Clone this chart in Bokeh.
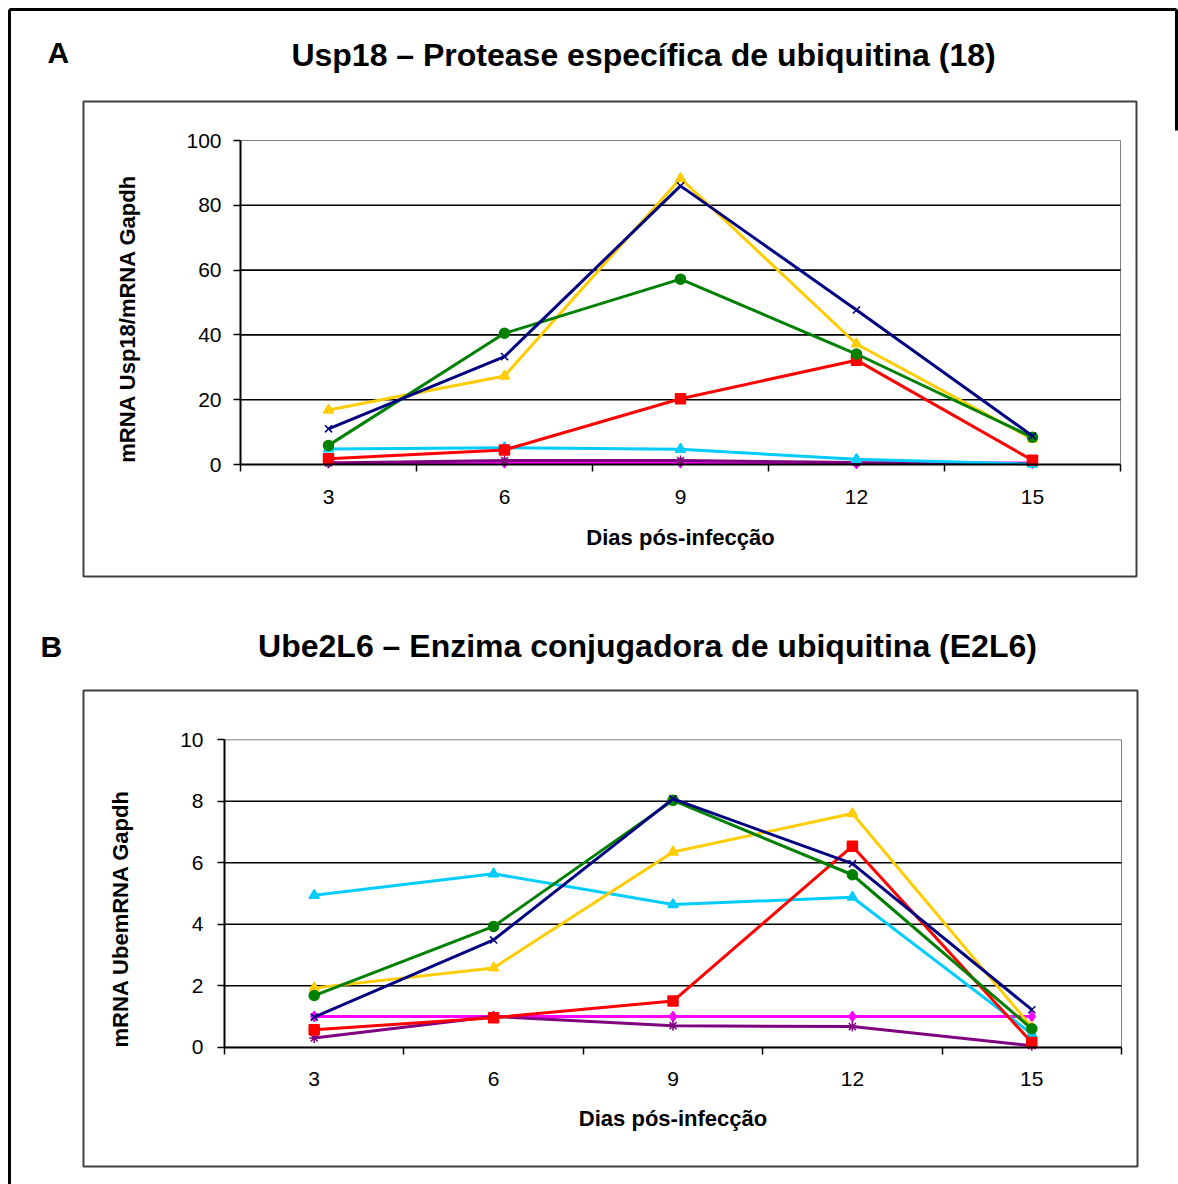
import math
from bokeh.plotting import figure
from bokeh.models import Range1d, FixedTicker, Label, LinearAxis
from bokeh.embed import file_html
from bokeh.resources import INLINE

# ---------------- data ----------------
days = [3, 6, 9, 12, 15]
xlabel = "Dias pós-infecção"

a_title = "Usp18 – Protease específica de ubiquitina (18)"
a_letter = "A"
a_ylabel = "mRNA Usp18/mRNA Gapdh"
a_yticks = [0, 20, 40, 60, 80, 100]
a_magenta = [0.5, 0.5, 0.5, 0.3, 0.5]
a_purple = [0.5, 1.2, 1.2, 0.6, 0.3]
a_cyan = [4.8, 5.2, 4.7, 1.6, 0.1]
a_yellow = [16.8, 27.3, 88.3, 37.2, 7.8]
a_red = [1.8, 4.5, 20.3, 32.2, 1.3]
a_green = [5.9, 40.5, 57.2, 34.1, 8.4]
a_navy = [11.0, 33.3, 86.0, 47.7, 8.8]

b_title = "Ube2L6 – Enzima conjugadora de ubiquitina (E2L6)"
b_letter = "B"
b_ylabel = "mRNA UbemRNA Gapdh"
b_yticks = [0, 2, 4, 6, 8, 10]
b_magenta = [1.0, 1.0, 1.0, 1.0, 1.0]
b_purple = [0.3, 1.0, 0.7, 0.67, 0.05]
b_cyan = [4.94, 5.64, 4.64, 4.88, 0.43]
b_yellow = [1.93, 2.58, 6.35, 7.6, 0.65]
b_red = [0.57, 0.96, 1.5, 6.54, 0.15]
b_green = [1.68, 3.93, 8.03, 5.61, 0.6]
b_navy = [0.98, 3.49, 8.08, 5.97, 1.22]

# ---------------- styles / layout (pixels) ----------------
series_colors = ["#FF00FF", "#800080", "#00CCFF", "#FFCC00", "#FF0000", "#008000", "#000080"]
series_markers = ["diamond", "asterisk", "triangle", "triangle", "square", "circle", "x"]
FONT = "Liberation Sans"
W, H = 1178, 1184

p = figure(width=W, height=H, x_range=Range1d(0, W), y_range=Range1d(0, H),
           x_axis_type=None, y_axis_type=None, output_backend="svg",
           toolbar_location=None, title=None, min_border=0)
p.outline_line_color = None
p.background_fill_color = "white"
p.border_fill_color = "white"


def Y(py):
    return H - py


# outer frame (top, left, right near the top)
p.line([9, 9], [Y(1200), Y(9)], line_color="black", line_width=3)
p.line([9, 1176], [Y(9), Y(9)], line_color="black", line_width=3)
p.line([1176, 1176], [Y(9), Y(130)], line_color="black", line_width=3)


def panel(key, plot_px, box_px, yticks, series, title, title_cx, title_base,
          letter, letter_x, letter_base, ylabel, ylab_cx, ylab_cy,
          ytick_standoff, xlab_standoff):
    L, T, R, B = plot_px
    half = (days[1] - days[0]) / 2
    x0, x1 = days[0] - half, days[-1] + half
    y0, y1 = yticks[0], yticks[-1]
    sx = (R - L) / (x1 - x0)
    sy = (B - T) / (y1 - y0)
    xr = Range1d(x0 - L / sx, x0 + (W - L) / sx)
    yr = Range1d(y0 - Y(B) / sy, y0 + (H - Y(B)) / sy)
    p.extra_x_ranges[key] = xr
    p.extra_y_ranges[key] = yr
    kw = dict(x_range_name=key, y_range_name=key)

    # chart box
    bl, bt, br, bb = box_px
    p.quad(left=bl, right=br, top=Y(bt), bottom=Y(bb), fill_color=None,
           line_color="#404040", line_width=2)
    # plot area border
    p.quad(left=x0, right=x1, bottom=y0, top=y1, fill_color=None,
           line_color="#808080", line_width=1, **kw)
    # grid lines
    gt = yticks[1:-1]
    p.segment(x0=[x0] * len(gt), x1=[x1] * len(gt), y0=gt, y1=gt,
              line_color="black", line_width=1.6, **kw)

    # axes
    xa = LinearAxis(fixed_location=y0, bounds=(x0, x1), **kw)
    xa.ticker = FixedTicker(ticks=days,
                            minor_ticks=[d - half for d in days] + [days[-1] + half])
    xa.major_tick_out = 0
    xa.major_tick_in = 0
    xa.minor_tick_out = 7
    xa.minor_tick_in = 0
    xa.minor_tick_line_color = "black"
    xa.minor_tick_line_width = 1.5
    xa.axis_line_color = "black"
    xa.axis_line_width = 2
    xa.major_label_text_font = FONT
    xa.major_label_text_font_size = "21px"
    xa.major_label_text_color = "black"
    xa.major_label_standoff = 18
    xa.axis_label = xlabel
    xa.axis_label_text_font = FONT
    xa.axis_label_text_font_size = "22px"
    xa.axis_label_text_font_style = "bold"
    xa.axis_label_text_color = "black"
    xa.axis_label_standoff = xlab_standoff
    p.add_layout(xa, "below")

    ya = LinearAxis(fixed_location=x0, bounds=(y0, y1), **kw)
    ya.ticker = FixedTicker(ticks=yticks, minor_ticks=[])
    ya.major_tick_out = 7
    ya.major_tick_in = 0
    ya.minor_tick_out = 0
    ya.minor_tick_in = 0
    ya.major_tick_line_color = "black"
    ya.major_tick_line_width = 1.5
    ya.axis_line_color = "black"
    ya.axis_line_width = 2
    ya.major_label_text_font = FONT
    ya.major_label_text_font_size = "21px"
    ya.major_label_text_color = "black"
    ya.major_label_standoff = ytick_standoff
    p.add_layout(ya, "left")

    # data
    for vals, color, marker in zip(series, series_colors, series_markers):
        p.line(days, vals, line_color=color, line_width=3, **kw)
        p.scatter(days, vals, marker=marker, size=10, fill_color=color,
                  line_color=color, line_width=1.5, **kw)

    # texts
    p.add_layout(Label(x=title_cx, y=Y(title_base), text=title,
                       text_font=FONT, text_font_size="32px", text_font_style="bold",
                       text_align="center", text_baseline="alphabetic", text_color="black"))
    p.add_layout(Label(x=letter_x, y=Y(letter_base), text=letter,
                       text_font=FONT, text_font_size="30px", text_font_style="bold",
                       text_align="left", text_baseline="alphabetic", text_color="black"))
    p.add_layout(Label(x=ylab_cx, y=Y(ylab_cy), text=ylabel, angle=math.pi / 2,
                       text_font=FONT, text_font_size="22px", text_font_style="bold",
                       text_align="center", text_baseline="middle", text_color="black"))


panel("a", (240, 140, 1120, 464), (83, 101, 1136, 576), a_yticks,
      [a_magenta, a_purple, a_cyan, a_yellow, a_red, a_green, a_navy],
      a_title, 643, 54, a_letter, 47, 52, a_ylabel, 127, 318, 12, 18)
panel("b", (224, 739.3, 1121, 1046.7), (83, 690, 1137, 1166), b_yticks,
      [b_magenta, b_purple, b_cyan, b_yellow, b_red, b_green, b_navy],
      b_title, 647, 645, b_letter, 40, 646, b_ylabel, 120, 918, 14, 16)

open("out.html", "w").write(file_html(p, INLINE))
